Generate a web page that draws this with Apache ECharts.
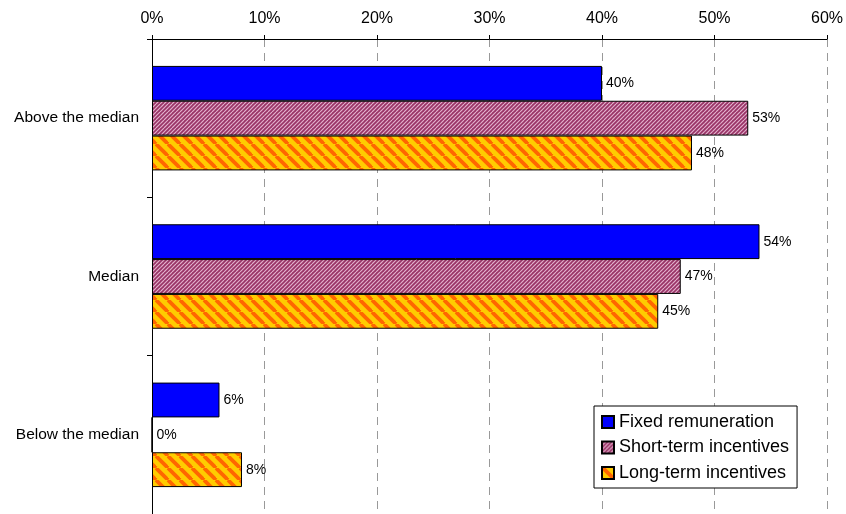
<!DOCTYPE html>
<html>
<head>
<meta charset="utf-8">
<script src="https://cdn.jsdelivr.net/npm/echarts@6/dist/echarts.min.js"></script>
<style>
  html, body { margin: 0; padding: 0; background: #fff; }
  #chart { width: 846px; height: 514px; }
</style>
</head>
<body>
<div id="chart"></div>
<script>
// Categories (top to bottom) and series values in percent
const categories = ['Above the median', 'Median', 'Below the median'];
const seriesNames = ['Fixed remuneration', 'Short-term incentives', 'Long-term incentives'];
const fixedRemuneration = [40, 54, 6];
const shortTermIncentives = [53, 47, 0];
const longTermIncentives = [48, 45, 8];
const xTicks = { min: 0, max: 60, interval: 10 };

// Build a repeating diagonal-stripe tile
function stripeTile(size, bg, fg, lineWidth, period, forward) {
  const c = document.createElement('canvas');
  c.width = size; c.height = size;
  const g = c.getContext('2d');
  g.fillStyle = bg;
  g.fillRect(0, 0, size, size);
  g.strokeStyle = fg;
  g.lineWidth = lineWidth;
  for (let x = -2 * size; x <= 2 * size; x += period) {
    g.beginPath();
    if (forward) { // "/" direction
      g.moveTo(x, size); g.lineTo(x + size, 0);
    } else {       // "\" direction
      g.moveTo(x, 0); g.lineTo(x + size, size);
    }
    g.stroke();
  }
  return c;
}

const pinkTile = stripeTile(8, '#993366', '#e2b0cc', 1.2, 4, true);
const orangeTile = stripeTile(12, '#ffcc00', '#ff6600', 3.8, 12, false);

const fills = [
  '#0000ff',
  { image: pinkTile, repeat: 'repeat' },
  { image: orangeTile, repeat: 'repeat' }
];
const dataSets = [fixedRemuneration, shortTermIncentives, longTermIncentives];

const chart = echarts.init(document.getElementById('chart'), null, { renderer: 'canvas' });

const textBase = { fontFamily: 'Liberation Sans, Arial, sans-serif', color: '#000' };

chart.setOption({
  animation: false,
  backgroundColor: '#fff',
  grid: { left: 152, right: 18, top: 39, height: 477, containLabel: false },
  xAxis: {
    type: 'value',
    position: 'top',
    min: xTicks.min, max: xTicks.max, interval: xTicks.interval,
    axisLine: { show: true, lineStyle: { color: '#000', width: 1 } },
    axisTick: { show: true, length: 4, inside: false, lineStyle: { color: '#000' } },
    axisLabel: { ...textBase, fontSize: 16, margin: 12, formatter: '{value}%' },
    splitLine: { show: true, lineStyle: { color: '#999', type: [8, 6], width: 1 } }
  },
  yAxis: {
    type: 'category',
    data: categories,
    inverse: true,
    axisLine: { show: true, lineStyle: { color: '#000', width: 1 } },
    axisTick: { show: true, length: 5, lineStyle: { color: '#000' } },
    axisLabel: { ...textBase, fontSize: 15.5, margin: 13 },
    splitLine: { show: false }
  },
  legend: {
    show: true,
    orient: 'vertical',
    left: 594, top: 406,
    padding: [7, 8, 6, 7],
    itemGap: 7.5,
    itemWidth: 12, itemHeight: 12,
    borderColor: '#000', borderWidth: 1,
    backgroundColor: '#fff',
    textStyle: { ...textBase, fontSize: 18, padding: [0, 0, 0, 0] },
    data: seriesNames.map(n => ({ name: n, icon: 'rect' }))
  },
  series: seriesNames.map((name, i) => ({
    name,
    type: 'bar',
    data: dataSets[i],
    barGap: '0%',
    barCategoryGap: '34%',
    itemStyle: { color: fills[i], borderColor: '#000', borderWidth: 1 },
    label: {
      show: true,
      position: 'right',
      distance: 4,
      formatter: '{c}%',
      ...textBase,
      fontSize: 14
    }
  }))
});
</script>
</body>
</html>
